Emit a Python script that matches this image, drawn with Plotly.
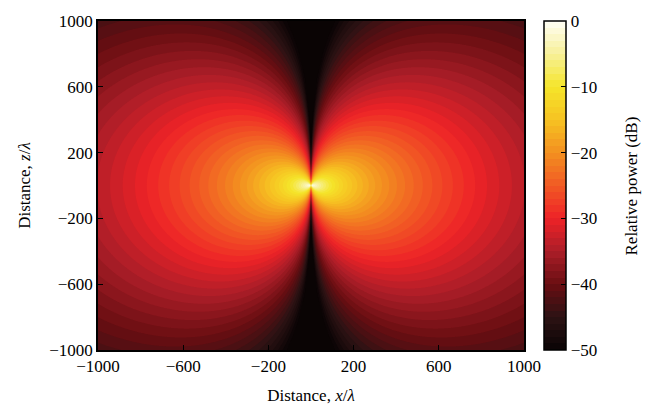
import numpy as np
import plotly.graph_objects as go

# Axis ticks and labels
x_ticks = [-1000, -600, -200, 200, 600, 1000]
z_ticks = [-1000, -600, -200, 200, 600, 1000]
cbar_ticks = [0, -10, -20, -30, -40, -50]
cbar_labels = ["0", "\u221210", "\u221220", "\u221230", "\u221240", "\u221250"]

# Grid of sample positions (in wavelengths)
x_grid = np.linspace(-1000, 1000, 501)
z_grid = np.linspace(-1000, 1000, 501)

# Radiation-pattern model whose parameters were read from the picture:
# angular exponent m, core radius r1, extra loss beta (dB per wavelength)
m_ang = 1.7
r1 = 52.0
beta = 0.0078
db_min, db_max = -50.0, 0.0

X, Z = np.meshgrid(x_grid, z_grid)
R = np.sqrt(X**2 + Z**2)
sin_t = np.abs(X) / np.maximum(R, 1e-9)
P = (10 * m_ang * np.log10(np.maximum(sin_t, 1e-12))
     - 20 * np.log10(1 + R / r1)
     - beta * R)
P = np.clip(P, db_min, db_max)

colorscale = [
    [0.0, "#0a0404"],
    [0.1, "#2c1214"],
    [0.2, "#6a0e12"],
    [0.3, "#ab1e28"],
    [0.4, "#ee2227"],
    [0.5, "#f15a24"],
    [0.6, "#f39020"],
    [0.7, "#f6c322"],
    [0.8, "#f5e52a"],
    [0.9, "#f7f09a"],
    [1.0, "#fffef5"],
]

font_family = "Liberation Serif"
fsize = 17

fig = go.Figure(
    go.Contour(
        x=x_grid,
        y=z_grid,
        z=P,
        zmin=db_min,
        zmax=db_max,
        contours=dict(start=db_min, end=db_max, size=1, coloring="fill", showlines=False),
        line=dict(width=0),
        colorscale=colorscale,
        colorbar=dict(
            x=1.047,
            xanchor="left",
            xpad=0,
            y=0.5,
            yanchor="middle",
            ypad=0,
            len=1.0,
            lenmode="fraction",
            thickness=22,
            outlinecolor="black",
            outlinewidth=1.5,
            tickvals=cbar_ticks,
            ticktext=cbar_labels,
            ticks="inside",
            ticklen=5,
            tickcolor="black",
            tickfont=dict(family=font_family, size=fsize, color="black"),
        ),
        hoverinfo="skip",
    )
)

axis_common = dict(
    showline=True,
    linecolor="black",
    linewidth=1.5,
    mirror=True,
    ticks="inside",
    ticklen=5,
    tickcolor="black",
    showgrid=False,
    zeroline=False,
    range=[-1000, 1000],
    tickfont=dict(family=font_family, size=fsize, color="black"),
)

fig.update_layout(
    width=653,
    height=414,
    margin=dict(l=98, r=129, t=14, b=61),
    paper_bgcolor="white",
    plot_bgcolor="white",
    xaxis=dict(**axis_common, tickvals=x_ticks,
               title=dict(text="Distance, <i>x</i>/<i>λ</i>", standoff=14,
                          font=dict(family=font_family, size=fsize, color="black"))),
    yaxis=dict(**axis_common, tickvals=z_ticks,
               title=dict(text="Distance, <i>z</i>/<i>λ</i>", standoff=14,
                          font=dict(family=font_family, size=fsize, color="black"))),
    annotations=[dict(
        text="Relative power (dB)", textangle=-90,
        xref="paper", yref="paper", x=1.2535, y=0.5,
        xanchor="center", yanchor="middle", showarrow=False,
        font=dict(family=font_family, size=fsize, color="black"),
    )],
)

fig.write_html("out.html")
